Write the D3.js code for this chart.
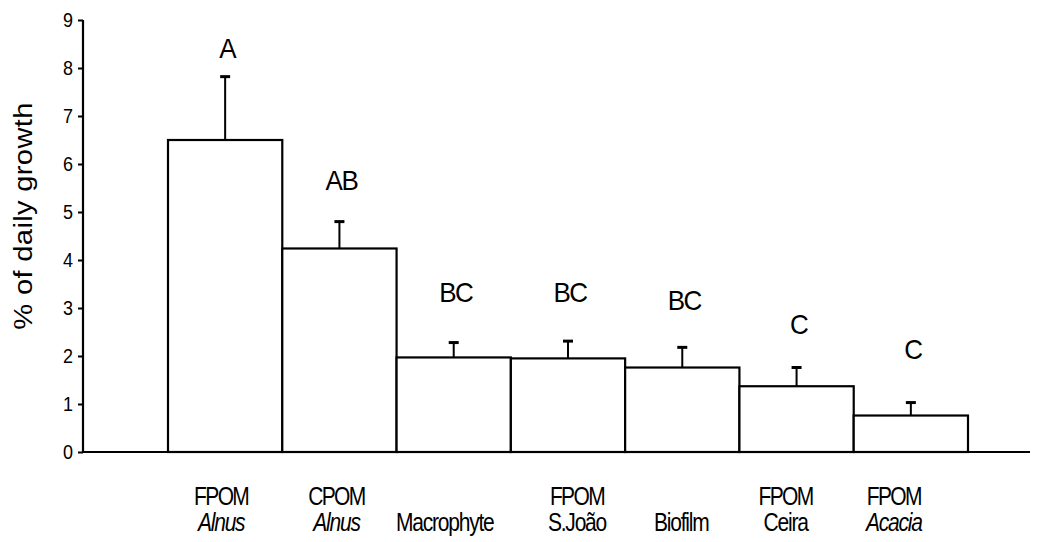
<!DOCTYPE html>
<html>
<head>
<meta charset="utf-8">
<script src="https://cdn.jsdelivr.net/npm/d3@7"></script>
<style>
  html, body { margin: 0; padding: 0; background: #fff; }
  svg { display: block; }
  text { font-family: "Liberation Sans", Arial, sans-serif; fill: #000; }
</style>
</head>
<body>
<svg id="chart" width="1043" height="542"></svg>
<script>
// Food sources tested and their mean daily growth (%), with upward standard error
const categories = ["FPOM Alnus", "CPOM Alnus", "Macrophyte", "FPOM S.João", "Biofilm", "FPOM Ceira", "FPOM Acacia"];
const labelTop = ["FPOM", "CPOM", "", "FPOM", "", "FPOM", "FPOM"];
const labelBottom = ["Alnus", "Alnus", "Macrophyte", "S.João", "Biofilm", "Ceira", "Acacia"];
const labelItalic = [true, true, false, false, false, false, true];
const growth = [6.5, 4.24, 1.97, 1.95, 1.76, 1.37, 0.76];
const stdErr = [1.32, 0.56, 0.31, 0.36, 0.42, 0.39, 0.27];
const groups = ["A", "AB", "BC", "BC", "BC", "C", "C"];
// height (in axis units) where each significance letter sits
const groupLevel = [8.2, 5.45, 3.12, 3.12, 2.96, 2.45, 1.93];
const yTicks = [0, 1, 2, 3, 4, 5, 6, 7, 8, 9];

// small horizontal nudges of the category captions
const captionShift = [-4, -3, -9, 9, -1, -11, -17];

const svg = d3.select("#chart");

const x = d3.scaleBand().domain(categories).range([168, 968]).padding(0);
const y = d3.scaleLinear().domain([0, 9]).range([452, 20]);

// y axis
const yAxis = svg.append("g")
  .attr("transform", "translate(83,0)")
  .call(d3.axisLeft(y).tickValues(yTicks).tickSize(5).tickSizeOuter(0).tickPadding(5));
yAxis.select(".domain").attr("stroke", "#000").attr("stroke-width", 2.2)
  .attr("d", `M0,${y(9)}V${y(0) + 1}`);
yAxis.selectAll(".tick line").attr("stroke", "#000").attr("stroke-width", 2);
yAxis.selectAll(".tick text")
  .style("font-family", "'Liberation Sans', Arial, sans-serif")
  .style("font-size", "18px").attr("fill", "#000")
  .attr("transform", "scale(1,1.12)");

// x axis baseline
svg.append("line")
  .attr("x1", 82).attr("x2", 1030)
  .attr("y1", y(0)).attr("y2", y(0))
  .attr("stroke", "#000").attr("stroke-width", 2.2);

// bars
svg.append("g").selectAll("rect")
  .data(categories)
  .join("rect")
  .attr("x", d => x(d))
  .attr("y", (d, i) => y(growth[i]))
  .attr("width", x.bandwidth())
  .attr("height", (d, i) => y(0) - y(growth[i]))
  .attr("fill", "#fff")
  .attr("stroke", "#000")
  .attr("stroke-width", 2.2);

// error bars (upper only)
const err = svg.append("g");
categories.forEach((c, i) => {
  const cx = x(c) + x.bandwidth() / 2;
  err.append("line")
    .attr("x1", cx).attr("x2", cx)
    .attr("y1", y(growth[i])).attr("y2", y(growth[i] + stdErr[i]))
    .attr("stroke", "#000").attr("stroke-width", 2);
  err.append("line")
    .attr("x1", cx - 5).attr("x2", cx + 5)
    .attr("y1", y(growth[i] + stdErr[i])).attr("y2", y(growth[i] + stdErr[i]))
    .attr("stroke", "#000").attr("stroke-width", 3);
});

// significance letters
svg.append("g").selectAll("text")
  .data(categories)
  .join("text")
  .attr("transform", (d, i) => `translate(${x(d) + x.bandwidth() / 2 + 2},${y(groupLevel[i])}) scale(1,1.08)`)
  .attr("text-anchor", "middle")
  .style("font-size", "26px")
  .style("letter-spacing", "-1.5px")
  .text((d, i) => groups[i]);

// category captions
const cap = svg.append("g");
categories.forEach((c, i) => {
  const cx = x(c) + x.bandwidth() / 2 + captionShift[i];
  if (labelTop[i]) {
    cap.append("text")
      .attr("transform", `translate(${cx},505) scale(1,1.22)`)
      .attr("text-anchor", "middle")
      .style("font-size", "21px")
      .style("letter-spacing", "-1.6px")
      .text(labelTop[i]);
  }
  cap.append("text")
    .attr("transform", `translate(${cx},531) scale(1,1.22)`)
    .attr("text-anchor", "middle")
    .style("font-size", "21px")
    .style("letter-spacing", "-1.2px")
    .style("font-style", labelItalic[i] ? "italic" : "normal")
    .text(labelBottom[i]);
});

// y axis title
svg.append("text")
  .attr("transform", `translate(32,216) rotate(-90) scale(1.12,1)`)
  .attr("text-anchor", "middle")
  .style("font-size", "26px")
  .style("letter-spacing", "0.3px")
  .text("% of daily growth");
</script>
</body>
</html>
